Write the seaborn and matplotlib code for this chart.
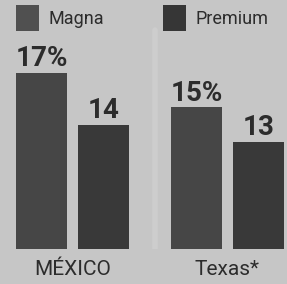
import matplotlib
matplotlib.use("Agg")
import matplotlib.pyplot as plt
import seaborn as sns
import pandas as pd
from matplotlib.patches import Patch

regions = ["MÉXICO", "Texas*"]
series = ["Magna", "Premium"]
magna = [17, 15]
premium = [14, 13]
value_labels_magna = ["17%", "15%"]
value_labels_premium = ["14", "13"]

bg = "#c6c6c6"
colors = {"Magna": "#464646", "Premium": "#393939"}
txt = "#2c2c2c"

df = pd.DataFrame({
    "region": regions * 2,
    "serie": ["Magna"] * 2 + ["Premium"] * 2,
    "value": magna + premium,
})

sns.set_theme(style="white")
plt.rcParams["font.family"] = ["Roboto", "DejaVu Sans"]

fig = plt.figure(figsize=(2.87, 2.84), dpi=100, facecolor=bg)
ax = fig.add_axes([0, 0.1232, 1, 0.8768])
ax.set_facecolor(bg)

ax.axvline(0.53, ymax=0.88, color="#cdcdcd", lw=4, zorder=0)

sns.barplot(data=df, x="region", y="value", hue="serie", order=regions,
            hue_order=series, palette=colors, width=0.8, gap=0.175,
            saturation=1, legend=False, linewidth=0, edgecolor="none", ax=ax)

ax.set_xlim(-0.468, 1.384)
ax.set_ylim(6.8, 21.2)

for cont, labs in zip(ax.containers, [value_labels_magna, value_labels_premium]):
    ax.bar_label(cont, labels=labs, padding=0.5, fontsize=20, fontweight="bold",
                 color=txt)

for s in ax.spines.values():
    s.set_visible(False)
ax.set_yticks([])
ax.set_xlabel("")
ax.set_ylabel("")
ax.tick_params(axis="x", length=0, pad=8, labelsize=15, labelcolor=txt)

handles = [Patch(facecolor="#505050", edgecolor="none", label="Magna"),
           Patch(facecolor="#363636", edgecolor="none", label="Premium")]
fig.legend(handles=handles, loc="upper left", bbox_to_anchor=(16 / 287, 1 - 5 / 284),
           ncol=2, frameon=False, handlelength=1.28, handleheight=1.85,
           handletextpad=0.5, columnspacing=3.3, labelcolor=txt,
           borderpad=0, borderaxespad=0,
           prop={"family": ["Roboto", "DejaVu Sans"], "size": 13})

fig.savefig("out.png", dpi=100, facecolor=bg)
